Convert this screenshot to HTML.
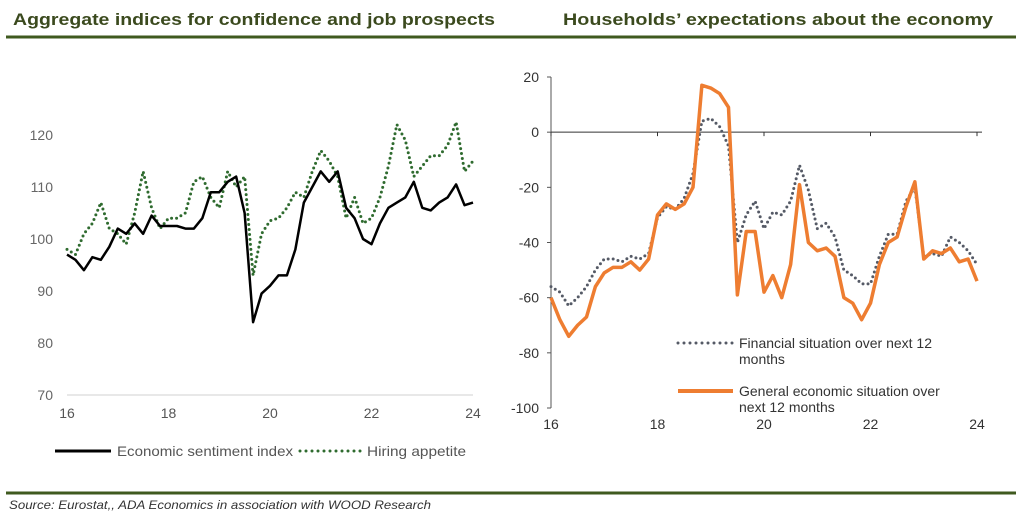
<!DOCTYPE html>
<html><head><meta charset="utf-8"><style>
html,body{margin:0;padding:0;background:#fff;}
svg{display:block;font-family:"Liberation Sans",sans-serif;}
</style></head><body>
<svg width="1022" height="522" viewBox="0 0 1022 522">
<text x="13" y="25" font-size="17" font-weight="bold" fill="#3b4a1e" textLength="482" lengthAdjust="spacingAndGlyphs">Aggregate indices for confidence and job prospects</text>
<text x="563" y="25" font-size="17" font-weight="bold" fill="#3b4a1e" textLength="430" lengthAdjust="spacingAndGlyphs">Households’ expectations about the economy</text>
<rect x="6" y="35.5" width="1010" height="3" fill="#3f5a1f"/>
<rect x="6" y="491.5" width="1010" height="3" fill="#3f5a1f"/>
<text x="9" y="509" font-size="12" font-style="italic" fill="#333" textLength="422" lengthAdjust="spacingAndGlyphs">Source: Eurostat,, ADA Economics in association with WOOD Research</text>
<g id="left"></g>
<g id="right"></g>
</svg>
<script>
const times=[];for(let i=0;i<=48;i++)times.push(16+i/6);
const esi=[97,96,94,96.5,96,98.5,102,101,103,101,104.5,102.5,102.5,102.5,102,102,104,109,109,111,112,105,84,89.5,91,93,93,98,107,110,113,111,113,106,104,100,99,103,106,107,108,111,106,105.5,107,108,110.5,106.5,107];
const hiring=[98,97,101,103,107,102,101,99,105,113,106,102,104,104,105,111,112,108,106,113,110,112,93,101,103.5,104,106,109,108,113,117,115,112,104,108,103,104,108,114,122,119,112,114,116,116,118,122.5,113,115];
const financial=[-56,-58,-63,-60,-56,-50,-46,-46,-47,-45,-46,-44,-31,-27,-28,-24,-15,4,5,2,-5,-40,-30,-25,-35,-29,-30,-25,-12,-21,-35,-33,-38,-50,-52,-55,-55,-45,-37,-37,-25,-20,-45,-44,-45,-38,-40,-43,-48];
const general=[-60,-68,-74,-70,-67,-56,-51,-49,-49,-47,-50,-46,-30,-26,-28,-26,-20,17,16,14,9,-59,-36,-36,-58,-52,-60,-48,-19,-40,-43,-42,-45,-60,-62,-68,-62,-48,-40,-38,-27,-18,-46,-43,-44,-42,-47,-46,-54];
const leftTicks=[70,80,90,100,110,120];
const rightTicks=[-100,-80,-60,-40,-20,0,20];
const xTicks=[16,18,20,22,24];
const NS='http://www.w3.org/2000/svg';
function mk(p,tag,attrs){const e=document.createElementNS(NS,tag);for(const k in attrs)e.setAttribute(k,attrs[k]);p.appendChild(e);return e;}
// left
const L=document.getElementById('left');
const lx=t=>67+(t-16)*(473-67)/8, ly=v=>395-(v-70)*5.2;
const la=mk(L,'line',{x1:67,x2:473,y1:395,y2:395,stroke:'#d0d0d0','stroke-width':1});


leftTicks.forEach(v=>{const t=mk(L,'text',{x:53,y:ly(v)+5,'font-size':14,fill:'#666','text-anchor':'end'});t.textContent=v;

});
xTicks.forEach(v=>{const t=mk(L,'text',{x:lx(v),y:418,'font-size':14,fill:'#555','text-anchor':'middle'});t.textContent=v;

});
const hp=mk(L,'polyline',{points:times.map((t,i)=>lx(t)+','+ly(hiring[i])).join(' '),fill:'none',stroke:'#2f6b2f','stroke-width':3,'stroke-dasharray':'0 5','stroke-linecap':'round'});


const ep=mk(L,'polyline',{points:times.map((t,i)=>lx(t)+','+ly(esi[i])).join(' '),fill:'none',stroke:'#000','stroke-width':2.5,'stroke-linejoin':'round'});


const l1=mk(L,'line',{x1:55,x2:111,y1:451,y2:451,stroke:'#000','stroke-width':3});


const l1t=mk(L,'text',{x:117,y:456,'font-size':14,fill:'#555',textLength:176,lengthAdjust:'spacingAndGlyphs'});l1t.textContent='Economic sentiment index';


const l2=mk(L,'line',{x1:300,x2:362,y1:451,y2:451,stroke:'#2f6b2f','stroke-width':3,'stroke-dasharray':'0 6','stroke-linecap':'round'});


const l2t=mk(L,'text',{x:367,y:456,'font-size':14,fill:'#555',textLength:99,lengthAdjust:'spacingAndGlyphs'});l2t.textContent='Hiring appetite';


// right
const R=document.getElementById('right');
const rx=t=>551+(t-16)*(977-551)/8, ry=v=>77+(20-v)*(408-77)/120;
const ya=mk(R,'line',{x1:551,x2:551,y1:77,y2:408,stroke:'#555','stroke-width':1});


const za=mk(R,'line',{x1:551,x2:982,y1:ry(0),y2:ry(0),stroke:'#333','stroke-width':1});


rightTicks.forEach(v=>{mk(R,'line',{x1:547,x2:551,y1:ry(v),y2:ry(v),stroke:'#555'});
const t=mk(R,'text',{x:539,y:ry(v)+5,'font-size':14,fill:'#333','text-anchor':'end'});t.textContent=v;

});
xTicks.forEach(v=>{mk(R,'line',{x1:rx(v),x2:rx(v),y1:ry(0),y2:ry(0)+4,stroke:'#333'});
const t=mk(R,'text',{x:rx(v),y:429,'font-size':14,fill:'#333','text-anchor':'middle'});t.textContent=v;

});
const fp=mk(R,'polyline',{points:times.map((t,i)=>rx(t)+','+ry(financial[i])).join(' '),fill:'none',stroke:'#555a66','stroke-width':3,'stroke-dasharray':'0 5','stroke-linecap':'round'});


const gp=mk(R,'polyline',{points:times.map((t,i)=>rx(t)+','+ry(general[i])).join(' '),fill:'none',stroke:'#ee7d31','stroke-width':3.5,'stroke-linejoin':'round'});


const r1=mk(R,'line',{x1:678,x2:733,y1:343,y2:343,stroke:'#555a66','stroke-width':3,'stroke-dasharray':'0 6','stroke-linecap':'round'});


[['Financial situation over next 12',348],['months',364]].forEach(([s,y])=>{const t=mk(R,'text',{x:739,y:y,'font-size':14,fill:'#333'});t.textContent=s;

});
const r2=mk(R,'line',{x1:678,x2:733,y1:391,y2:391,stroke:'#ee7d31','stroke-width':4});


[['General economic situation over',396],['next 12 months',412]].forEach(([s,y])=>{const t=mk(R,'text',{x:739,y:y,'font-size':14,fill:'#333'});t.textContent=s;

});
</script>
</body></html>
